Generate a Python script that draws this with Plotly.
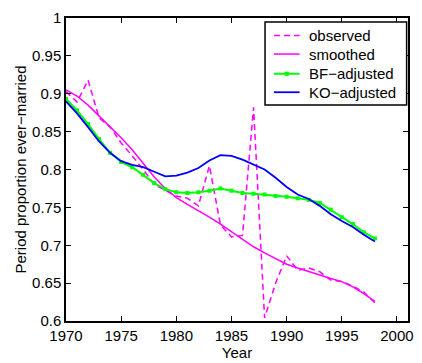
import plotly.graph_objects as go

years = list(range(1970, 1999))

observed = [0.903, 0.889, 0.918, 0.868, 0.856, 0.835, 0.818, 0.800, 0.780, 0.772,
            0.765, 0.762, 0.752, 0.805, 0.727, 0.711, 0.713, 0.882, 0.604, 0.650,
            0.686, 0.667, 0.670, 0.665, 0.654, 0.652, 0.646, 0.638, 0.624]

smoothed = [0.905, 0.897, 0.885, 0.871, 0.857, 0.842, 0.826, 0.808, 0.790, 0.775,
            0.763, 0.754, 0.746, 0.737, 0.728, 0.718, 0.708, 0.698, 0.690, 0.682,
            0.675, 0.670, 0.665, 0.661, 0.656, 0.652, 0.645, 0.636, 0.626]

bf_adjusted = [0.893, 0.878, 0.860, 0.840, 0.822, 0.810, 0.803, 0.793, 0.782, 0.774,
               0.770, 0.769, 0.770, 0.772, 0.775, 0.772, 0.769, 0.768, 0.767, 0.765,
               0.764, 0.762, 0.760, 0.756, 0.747, 0.737, 0.728, 0.717, 0.709]

ko_adjusted = [0.890, 0.874, 0.856, 0.837, 0.822, 0.811, 0.806, 0.803, 0.797, 0.791,
               0.792, 0.796, 0.802, 0.812, 0.819, 0.818, 0.813, 0.807, 0.800, 0.789,
               0.777, 0.767, 0.761, 0.752, 0.741, 0.732, 0.724, 0.714, 0.705]

series_names = ["observed", "smoothed", "BF\u2212adjusted", "KO\u2212adjusted"]

MAGENTA = "#ff00ff"
GREEN = "#00ff00"
BLUE = "#0000ff"

styles = [
    dict(color=MAGENTA, width=1.5, dash="6px,4px"),
    dict(color=MAGENTA, width=1.5, dash="solid"),
    dict(color=GREEN, width=2, dash="solid"),
    dict(color=BLUE, width=1.8, dash="solid"),
]

fig = go.Figure()
for name, values, style in zip(series_names, [observed, smoothed, bf_adjusted, ko_adjusted], styles):
    is_bf = name.startswith("BF")
    fig.add_trace(go.Scatter(
        x=years, y=values, name=name, showlegend=False,
        mode="lines+markers" if is_bf else "lines",
        line=style,
        marker=dict(symbol="square", size=4, color=style["color"]),
    ))

# Boxed legend in the upper right corner (paper coordinates of the plot area)
box_x0, box_x1 = 0.582, 0.996
box_y0, box_y1 = 0.713, 0.987
sample_x0, sample_x1 = 0.608, 0.683
text_x = 0.706
row_y = [0.942, 0.881, 0.816, 0.755]

shapes = [dict(type="rect", xref="paper", yref="paper",
               x0=box_x0, x1=box_x1, y0=box_y0, y1=box_y1,
               line=dict(color="black", width=1.5), fillcolor="white", layer="above")]
annotations = []
for name, style, yy in zip(series_names, styles, row_y):
    shapes.append(dict(type="line", xref="paper", yref="paper",
                       x0=sample_x0, x1=sample_x1, y0=yy, y1=yy, layer="above",
                       line=dict(color=style["color"], width=style["width"], dash=style["dash"])))
    if name.startswith("BF"):
        cx = (sample_x0 + sample_x1) / 2
        shapes.append(dict(type="rect", xref="paper", yref="paper", layer="above",
                           x0=cx - 0.006, x1=cx + 0.006, y0=yy - 0.007, y1=yy + 0.007,
                           line=dict(width=0), fillcolor=style["color"]))
    annotations.append(dict(text=name, xref="paper", yref="paper", x=text_x, y=yy,
                            xanchor="left", yanchor="middle", showarrow=False,
                            font=dict(size=15, color="black")))

font = "Liberation Sans, Arial, sans-serif"

fig.update_layout(
    width=422, height=363,
    margin=dict(l=66, r=9, t=15, b=41),
    paper_bgcolor="white", plot_bgcolor="white",
    font=dict(family=font, size=15, color="black"),
    showlegend=False,
    shapes=shapes,
    annotations=annotations,
    xaxis=dict(range=[1970, 2001], tickvals=[1970, 1975, 1980, 1985, 1990, 1995, 2000],
               ticks="inside", ticklen=5, tickcolor="black", showgrid=False, zeroline=False,
               showline=True, linecolor="black", linewidth=1.5, mirror="ticks",
               title=dict(text="Year", standoff=0, font=dict(size=15))),
    yaxis=dict(range=[0.6, 1.0], tickvals=[0.6, 0.65, 0.7, 0.75, 0.8, 0.85, 0.9, 0.95, 1.0],
               ticktext=["0.6", "0.65", "0.7", "0.75", "0.8", "0.85", "0.9", "0.95", "1"],
               ticks="inside", ticklen=5, tickcolor="black", showgrid=False, zeroline=False,
               showline=True, linecolor="black", linewidth=1.5, mirror="ticks",
               title=dict(text="Period proportion ever\u2212married", standoff=2, font=dict(size=15))),
)

fig.write_html("out.html")
